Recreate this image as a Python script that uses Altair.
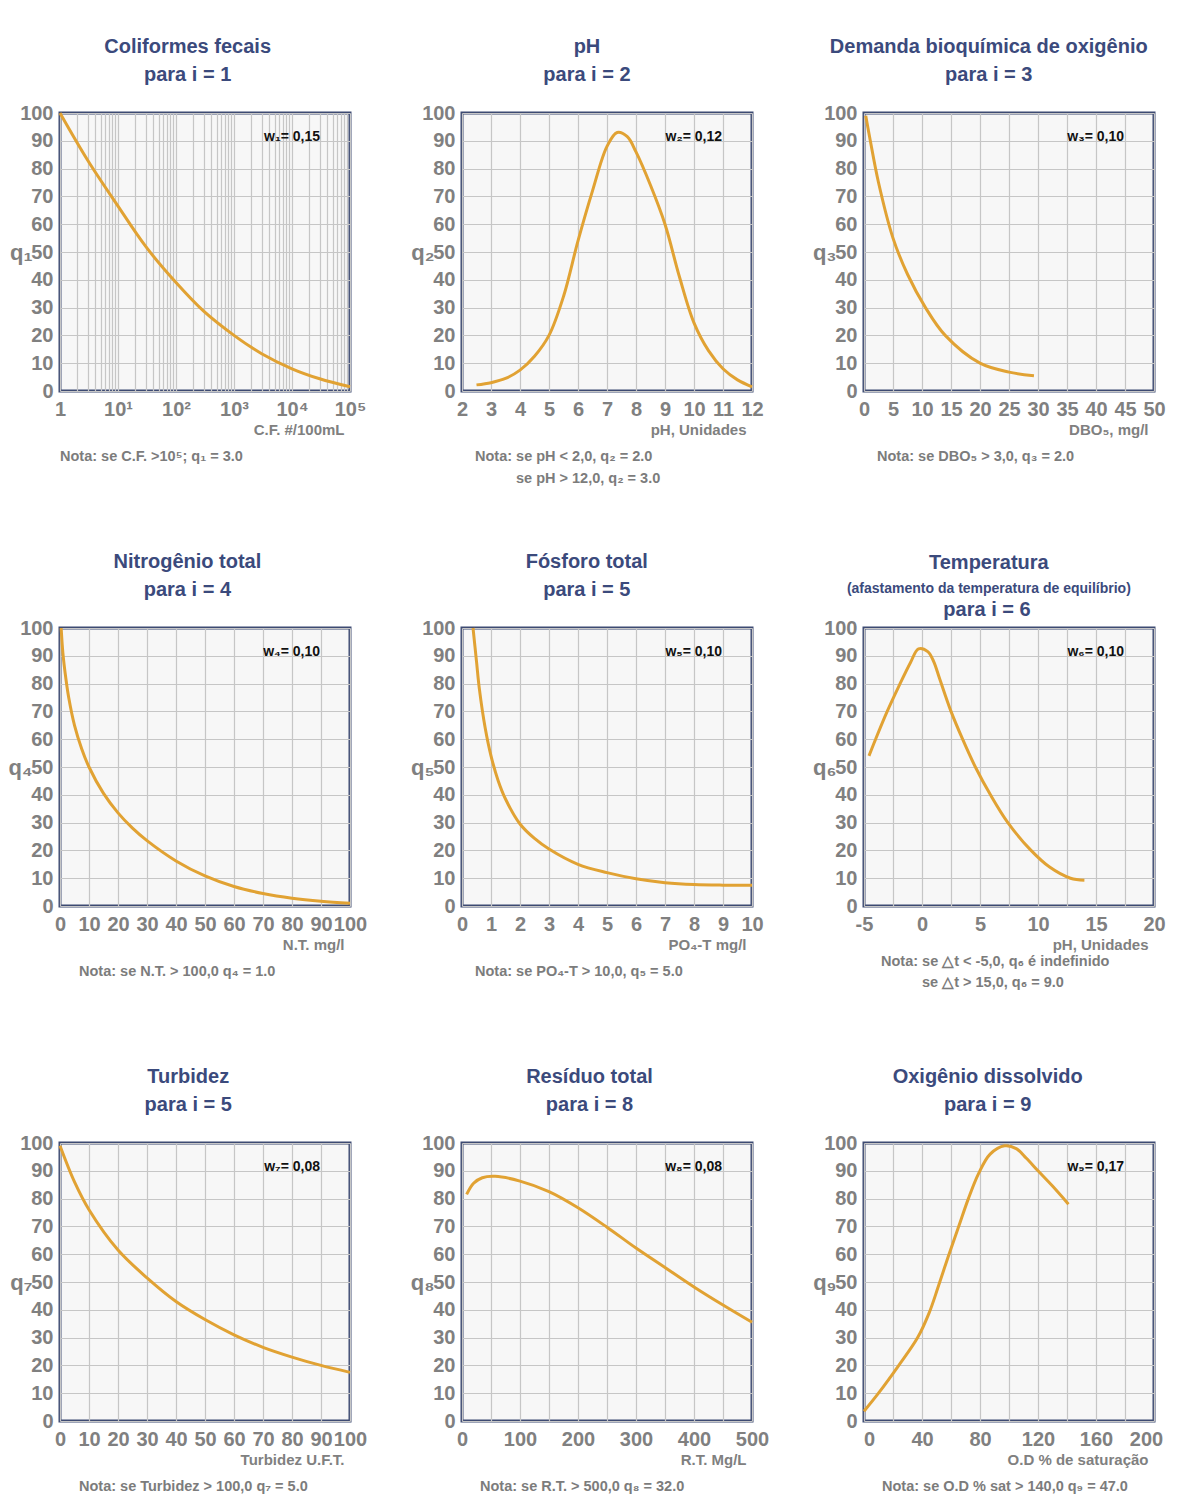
import altair as alt
import pandas as pd

# ---------------- data ----------------
p1_x = [1, 3, 10, 30, 100, 300, 1000, 3000, 10000, 30000, 100000]
p1_y = [100, 83, 66.5, 52, 39, 28.7, 20, 13.4, 8, 4.4, 1.5]

p2_x = [2.5, 3, 3.5, 4, 4.5, 5, 5.5, 6, 6.5, 7, 7.35, 7.7, 8, 8.5, 9, 9.5, 10, 10.5, 11, 11.5, 12]
p2_y = [2.2, 3, 4.5, 7.5, 12.5, 20, 34, 54, 72, 88, 93, 91.5, 86, 74, 60, 41, 24.5, 14.5, 8, 4, 1.5]

p3_x = [0.3, 1, 2.5, 5, 7.5, 10.6, 14, 20, 25, 29.3]
p3_y = [99, 91, 75, 55, 42, 30, 20, 10, 6.8, 5.5]

p4_x = [0.4, 1, 2, 3, 5, 7.5, 10, 15, 20, 25, 30, 40, 50, 60, 70, 80, 90, 100]
p4_y = [100, 91, 82, 75, 65, 56.5, 50, 40.5, 33.5, 28, 23.5, 16.2, 10.8, 7, 4.5, 2.8, 1.7, 1]

p5_x = [0.38, 0.5, 0.6, 0.8, 1, 1.25, 1.5, 2, 2.5, 3, 4, 5, 6, 7, 8, 9, 10]
p5_y = [100, 88, 78, 64, 54, 45, 38.5, 29.5, 24.3, 20.5, 15, 12, 9.8, 8.4, 7.7, 7.5, 7.5]

p6_x = [-4.57, -4, -3, -2, -1, -0.3, 0.5, 1, 1.5, 2.5, 3.5, 4.6, 5.9, 7.4, 9.4, 11, 12.8, 14]
p6_y = [54, 60, 70, 79, 87.5, 92.5, 91.5, 88, 82, 70, 60, 50, 40, 30, 20, 14, 10, 9.3]

p7_x = [0, 5, 10, 20, 30, 40, 50, 60, 70, 80, 90, 100]
p7_y = [99, 86, 76, 61.5, 51.5, 43, 36.5, 31, 26.5, 23, 20, 17.5]

p8_x = [8, 20, 35, 57, 100, 150, 200, 250, 300, 350, 400, 450, 500]
p8_y = [81.5, 85.5, 87.5, 88, 86.3, 82.5, 76.7, 69.7, 62.2, 55.2, 48.2, 41.7, 35.5]

p9_x = [0, 10, 24, 37, 45, 51, 58, 65, 72, 79, 87, 97, 105, 112, 120, 130, 141]
p9_y = [3.5, 10, 20, 30, 39, 48, 59, 69.5, 80, 89, 96, 99, 98, 94.5, 90, 84.5, 78]

titles = ["Coliformes fecais", "pH", "Demanda bioquímica de oxigênio",
          "Nitrogênio total", "Fósforo total", "Temperatura",
          "Turbidez", "Resíduo total", "Oxigênio dissolvido"]
subtitles = ["para i = 1", "para i = 2", "para i = 3",
             "para i = 4", "para i = 5", "para i = 6",
             "para i = 5", "para i = 8", "para i = 9"]
weights = ["w₁= 0,15", "w₂= 0,12", "w₃= 0,10",
           "w₄= 0,10", "w₅= 0,10", "w₆= 0,10",
           "w₇= 0,08", "w₈= 0,08", "w₉= 0,17"]
ylabels = ["q₁", "q₂", "q₃", "q₄", "q₅", "q₆", "q₇", "q₈", "q₉"]
units = ["C.F. #/100mL", "pH, Unidades", "DBO₅, mg/l",
         "N.T. mg/l", "PO₄-T mg/l", "pH, Unidades",
         "Turbidez U.F.T.", "R.T. Mg/L", "O.D % de saturação"]
notes = [
    ["Nota: se C.F. >10⁵; q₁ = 3.0"],
    ["Nota: se pH < 2,0, q₂ = 2.0", "se pH > 12,0, q₂ = 3.0"],
    ["Nota: se DBO₅ > 3,0, q₃ = 2.0"],
    ["Nota: se N.T. > 100,0  q₄ = 1.0"],
    ["Nota: se PO₄-T > 10,0, q₅ = 5.0"],
    ["Nota: se △t < -5,0, q₆ é indefinido", "se △t > 15,0, q₆ = 9.0"],
    ["Nota: se Turbidez > 100,0  q₇ = 5.0"],
    ["Nota: se R.T. > 500,0  q₈ = 32.0"],
    ["Nota: se O.D % sat > 140,0  q₉ = 47.0"],
]
temp_extra = "(afastamento da temperatura de equilíbrio)"

series = [(p1_x, p1_y), (p2_x, p2_y), (p3_x, p3_y), (p4_x, p4_y), (p5_x, p5_y),
          (p6_x, p6_y), (p7_x, p7_y), (p8_x, p8_y), (p9_x, p9_y)]

# ---------------- styling / layout ----------------
W, H = 290, 278
FONT = "Liberation Sans, Arial, sans-serif"
ORANGE = "#E1A233"
TITLE_C = "#3b4a7c"
GRAY = "#808080"

log_vals = [m * 10 ** e for e in range(5) for m in range(1, 10)] + [100000]
log_expr = ("datum.value == 1 ? '1' : datum.value == 10 ? '10¹' : datum.value == 100 ? '10²' : "
            "datum.value == 1000 ? '10³' : datum.value == 10000 ? '10⁴' : datum.value == 100000 ? '10⁵' : ''")

xcfg = [
    dict(scale=alt.Scale(type="log", domain=[1, 100000]), values=log_vals, expr=log_expr),
    dict(scale=alt.Scale(domain=[2, 12]), values=list(range(2, 13)), expr=None),
    dict(scale=alt.Scale(domain=[0, 50]), values=list(range(0, 51, 5)), expr=None),
    dict(scale=alt.Scale(domain=[0, 100]), values=list(range(0, 101, 10)), expr=None),
    dict(scale=alt.Scale(domain=[0, 10]), values=list(range(0, 11)), expr=None),
    dict(scale=alt.Scale(domain=[-5, 20]), values=[-5 + 2.5 * i for i in range(11)],
         expr="datum.value % 5 == 0 ? '' + datum.value : ''"),
    dict(scale=alt.Scale(domain=[0, 100]), values=list(range(0, 101, 10)), expr=None),
    dict(scale=alt.Scale(domain=[0, 500]), values=list(range(0, 501, 50)),
         expr="datum.value % 100 == 0 ? datum.label : ''"),
    dict(scale=alt.Scale(domain=[0, 200]), values=list(range(0, 201, 20)),
         expr="datum.value % 40 == 0 ? datum.label : ''"),
]
# note line x-offsets (px from plot left) and y offsets (px from plot bottom)
note_pos = [
    [(0, 70)], [(13, 70), (54, 92)], [(13, 70)],
    [(19, 70)], [(13, 70)], [(17, 60), (58, 81)],
    [(19, 70)], [(18, 70)], [(18, 70)],
]


def text_layer(txt, x, y, size, color, align="left", baseline="alphabetic"):
    return alt.Chart(pd.DataFrame({"t": [txt]})).mark_text(
        font=FONT, fontSize=size, fontWeight="bold", color=color,
        align=align, baseline=baseline
    ).encode(text="t:N", x=alt.value(x), y=alt.value(y))


panels = []
for i in range(9):
    xs, ys = series[i]
    cfg = xcfg[i]
    xaxis_kw = dict(values=cfg["values"], title=units[i], titleFontSize=15, labelPadding=8,
                    titleX=W - 6, titleY=43, titleAlign="right", titleBaseline="alphabetic")
    if cfg["expr"]:
        xaxis_kw["labelExpr"] = cfg["expr"]
    if i == 8:
        # keep the last label of the right-most panel inside the page
        xaxis_kw["labelOffset"] = {
            "condition": [{"test": "datum.value == 200", "value": -8},
                          {"test": "datum.value == 0", "value": 5}],
            "value": 0,
        }
    line = alt.Chart(pd.DataFrame({"x": xs, "y": ys})).mark_line(
        color=ORANGE, strokeWidth=3, interpolate="catmull-rom"
    ).encode(
        x=alt.X("x:Q", scale=cfg["scale"], axis=alt.Axis(**xaxis_kw)),
        y=alt.Y("y:Q", scale=alt.Scale(domain=[0, 100]),
                axis=alt.Axis(values=list(range(0, 101, 10)), title=ylabels[i],
                              labelPadding=7,
                              titleAngle=0, titleFontSize=22, titleX=-28, titleY=H / 2,
                              titleAlign="right", titleBaseline="middle")),
    )
    layers = [line, text_layer(weights[i], W - 30, 24, 14, "#111111", align="right", baseline="middle")]
    for txt, (dx, dy) in zip(notes[i], note_pos[i]):
        layers.append(text_layer(txt, dx, H + dy, 14.5, "#7c7c7c"))
    if i == 5:
        layers.append(text_layer(subtitles[i], 123, -12, 20, TITLE_C, align="center"))
        title = alt.Title(titles[i], subtitle=temp_extra, subtitleFontSize=14, subtitlePadding=9, offset=4)
    else:
        title = alt.Title(titles[i], subtitle=subtitles[i])
    panels.append(alt.layer(*layers).properties(width=W, height=H, title=title))

chart = alt.concat(
    *panels, columns=3, spacing={"row": 237, "column": 112}, bounds="flush"
).properties(
    padding={"left": -2, "top": 27, "right": 0, "bottom": 0}, background="white"
).configure_view(
    stroke="#3d4a72", strokeWidth=3, fill="#f7f7f7"
).configure_axis(
    domain=False, ticks=False, grid=True, gridColor="#c6c6c6", gridWidth=1.2,
    labelFont=FONT, labelFontSize=20, labelFontWeight="bold", labelColor=GRAY,
    labelFlush=False, labelOverlap=False,
    titleFont=FONT, titleColor=GRAY, titleFontWeight="bold"
).configure_title(
    font=FONT, fontSize=20, fontWeight="bold", color=TITLE_C,
    subtitleFont=FONT, subtitleFontSize=20, subtitleFontWeight="bold", subtitleColor=TITLE_C,
    anchor="middle", frame="bounds", offset=18, subtitlePadding=8
)

chart.save("out.html", embed_options={"renderer": "svg", "actions": False})
